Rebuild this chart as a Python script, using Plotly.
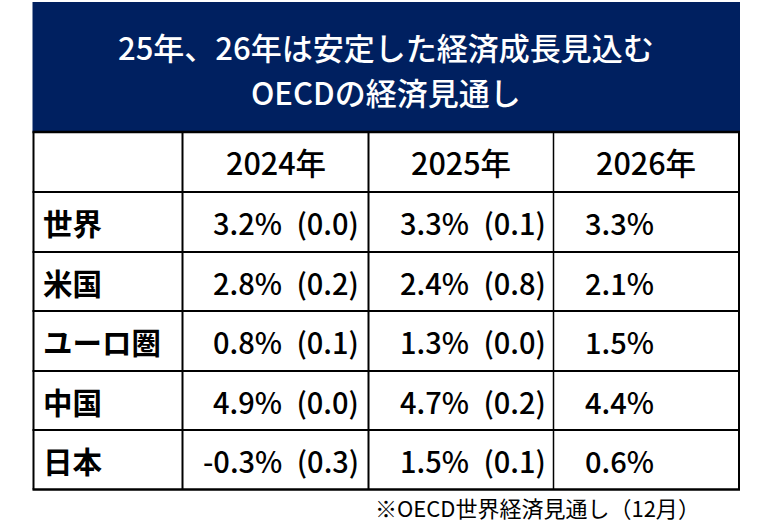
import plotly.graph_objects as go

# ---- data ----
title_lines = ["25年、26年は安定した経済成長見込む", "OECDの経済見通し"]
regions = ["世界", "米国", "ユーロ圏", "中国", "日本"]
years = ["2024年", "2025年", "2026年"]
growth_2024 = [3.2, 2.8, 0.8, 4.9, -0.3]
rev_2024 = [0.0, 0.2, 0.1, 0.0, 0.3]
growth_2025 = [3.3, 2.4, 1.3, 4.7, 1.5]
rev_2025 = [0.1, 0.8, 0.0, 0.2, 0.1]
growth_2026 = [3.3, 2.1, 1.5, 4.4, 0.6]
footnote = "※OECD世界経済見通し（12月）"

# ---- layout constants ----
W, H = 768, 529
NAVY = "#002060"
FONT = "Noto Sans CJK JP"
left, right = 33.5, 739
title_top, title_bot = 2, 132
col_x = [left, 182.5, 368.5, 553.5, right]
row_y = [132, 192, 252, 311, 371, 430, 489.5]
SEP = "\u2002"

fig = go.Figure()
shapes = []
shapes.append(dict(type="rect", x0=left - 1, x1=right + 1, y0=title_top, y1=title_bot,
                   xref="x", yref="y", fillcolor=NAVY, line=dict(width=0), layer="below"))
for i, y in enumerate(row_y):
    w = 2.5 if i in (0, len(row_y) - 1) else 2
    shapes.append(dict(type="line", x0=left - 1, x1=right + 1, y0=y, y1=y, xref="x", yref="y",
                       line=dict(color="black", width=w)))
for i, x in enumerate(col_x):
    w = 1.5 if i == 3 else 2
    shapes.append(dict(type="line", x0=x, x1=x, y0=row_y[0], y1=row_y[-1], xref="x", yref="y",
                       line=dict(color="black", width=w)))

ann = []
title_font = dict(family=FONT, size=31, color="white", weight=500)
ann.append(dict(x=(left + right) / 2, y=46, text=title_lines[0], showarrow=False,
                xanchor="center", yanchor="middle", font=title_font))
ann.append(dict(x=(left + right) / 2, y=91, text=title_lines[1], showarrow=False,
                xanchor="center", yanchor="middle", font=title_font))
head_font = dict(family=FONT, size=30.5, color="black", weight=500)
val_font = dict(family=FONT, size=29, color="black", weight=500)
lab_font = dict(family=FONT, size=29.5, color="black", weight="bold")
for j, yr in enumerate(years):
    ann.append(dict(x=(col_x[j + 1] + col_x[j + 2]) / 2, y=(row_y[0] + row_y[1]) / 2, text=yr,
                    showarrow=False, xanchor="center", yanchor="middle", font=head_font))
for i, reg in enumerate(regions):
    yc = (row_y[i + 1] + row_y[i + 2]) / 2
    ann.append(dict(x=41, y=yc, text=reg, showarrow=False, xanchor="left", yanchor="middle",
                    font=lab_font))
    ann.append(dict(x=361, y=yc, text=f"{growth_2024[i]:.1f}%{SEP}({rev_2024[i]:.1f})", showarrow=False,
                    xanchor="right", yanchor="middle", font=val_font))
    ann.append(dict(x=548, y=yc, text=f"{growth_2025[i]:.1f}%{SEP}({rev_2025[i]:.1f})", showarrow=False,
                    xanchor="right", yanchor="middle", font=val_font))
    ann.append(dict(x=583, y=yc, text=f"{growth_2026[i]:.1f}%", showarrow=False,
                    xanchor="left", yanchor="middle", font=val_font))
ann.append(dict(x=373, y=507, text=footnote, showarrow=False, xanchor="left", yanchor="middle",
                font=dict(family=FONT, size=22, color="black")))

fig.update_layout(
    width=W, height=H, margin=dict(l=0, r=0, t=0, b=0),
    paper_bgcolor="white", plot_bgcolor="white",
    xaxis=dict(range=[0, W], visible=False, fixedrange=True),
    yaxis=dict(range=[H, 0], visible=False, fixedrange=True),
    shapes=shapes, annotations=ann, showlegend=False,
)
fig.write_html("out.html", config={"displayModeBar": False},
               post_script="document.body.style.margin='0';document.body.style.overflow='hidden';")
